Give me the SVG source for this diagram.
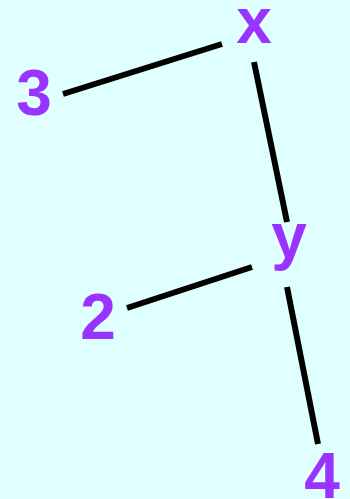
<svg xmlns="http://www.w3.org/2000/svg" width="350" height="499" viewBox="0 0 350 499">
<style>
.lbl{font-family:"Liberation Sans",Arial,sans-serif;font-weight:bold;font-size:64px;fill:#9933ff;text-anchor:middle}
.edge{stroke:#000;stroke-width:6;fill:none}
</style>
<rect width="350" height="499" fill="#e0ffff"/>
<g id="connectors">
<line class="edge" x1="63" y1="94" x2="222" y2="44"/>
<line class="edge" x1="254" y1="62" x2="287" y2="222"/>
<line class="edge" x1="252" y1="267" x2="127" y2="308"/>
<line class="edge" x1="287" y1="287" x2="318" y2="444"/>
</g>
<g id="node-x"><text class="lbl" x="254" y="43">x</text></g>
<g id="node-3"><text class="lbl" x="34" y="115">3</text></g>
<g id="node-y"><text class="lbl" x="289" y="258">y</text></g>
<g id="node-2"><text class="lbl" x="98" y="339">2</text></g>
<g id="node-4"><text class="lbl" x="322" y="498">4</text></g>
</svg>
